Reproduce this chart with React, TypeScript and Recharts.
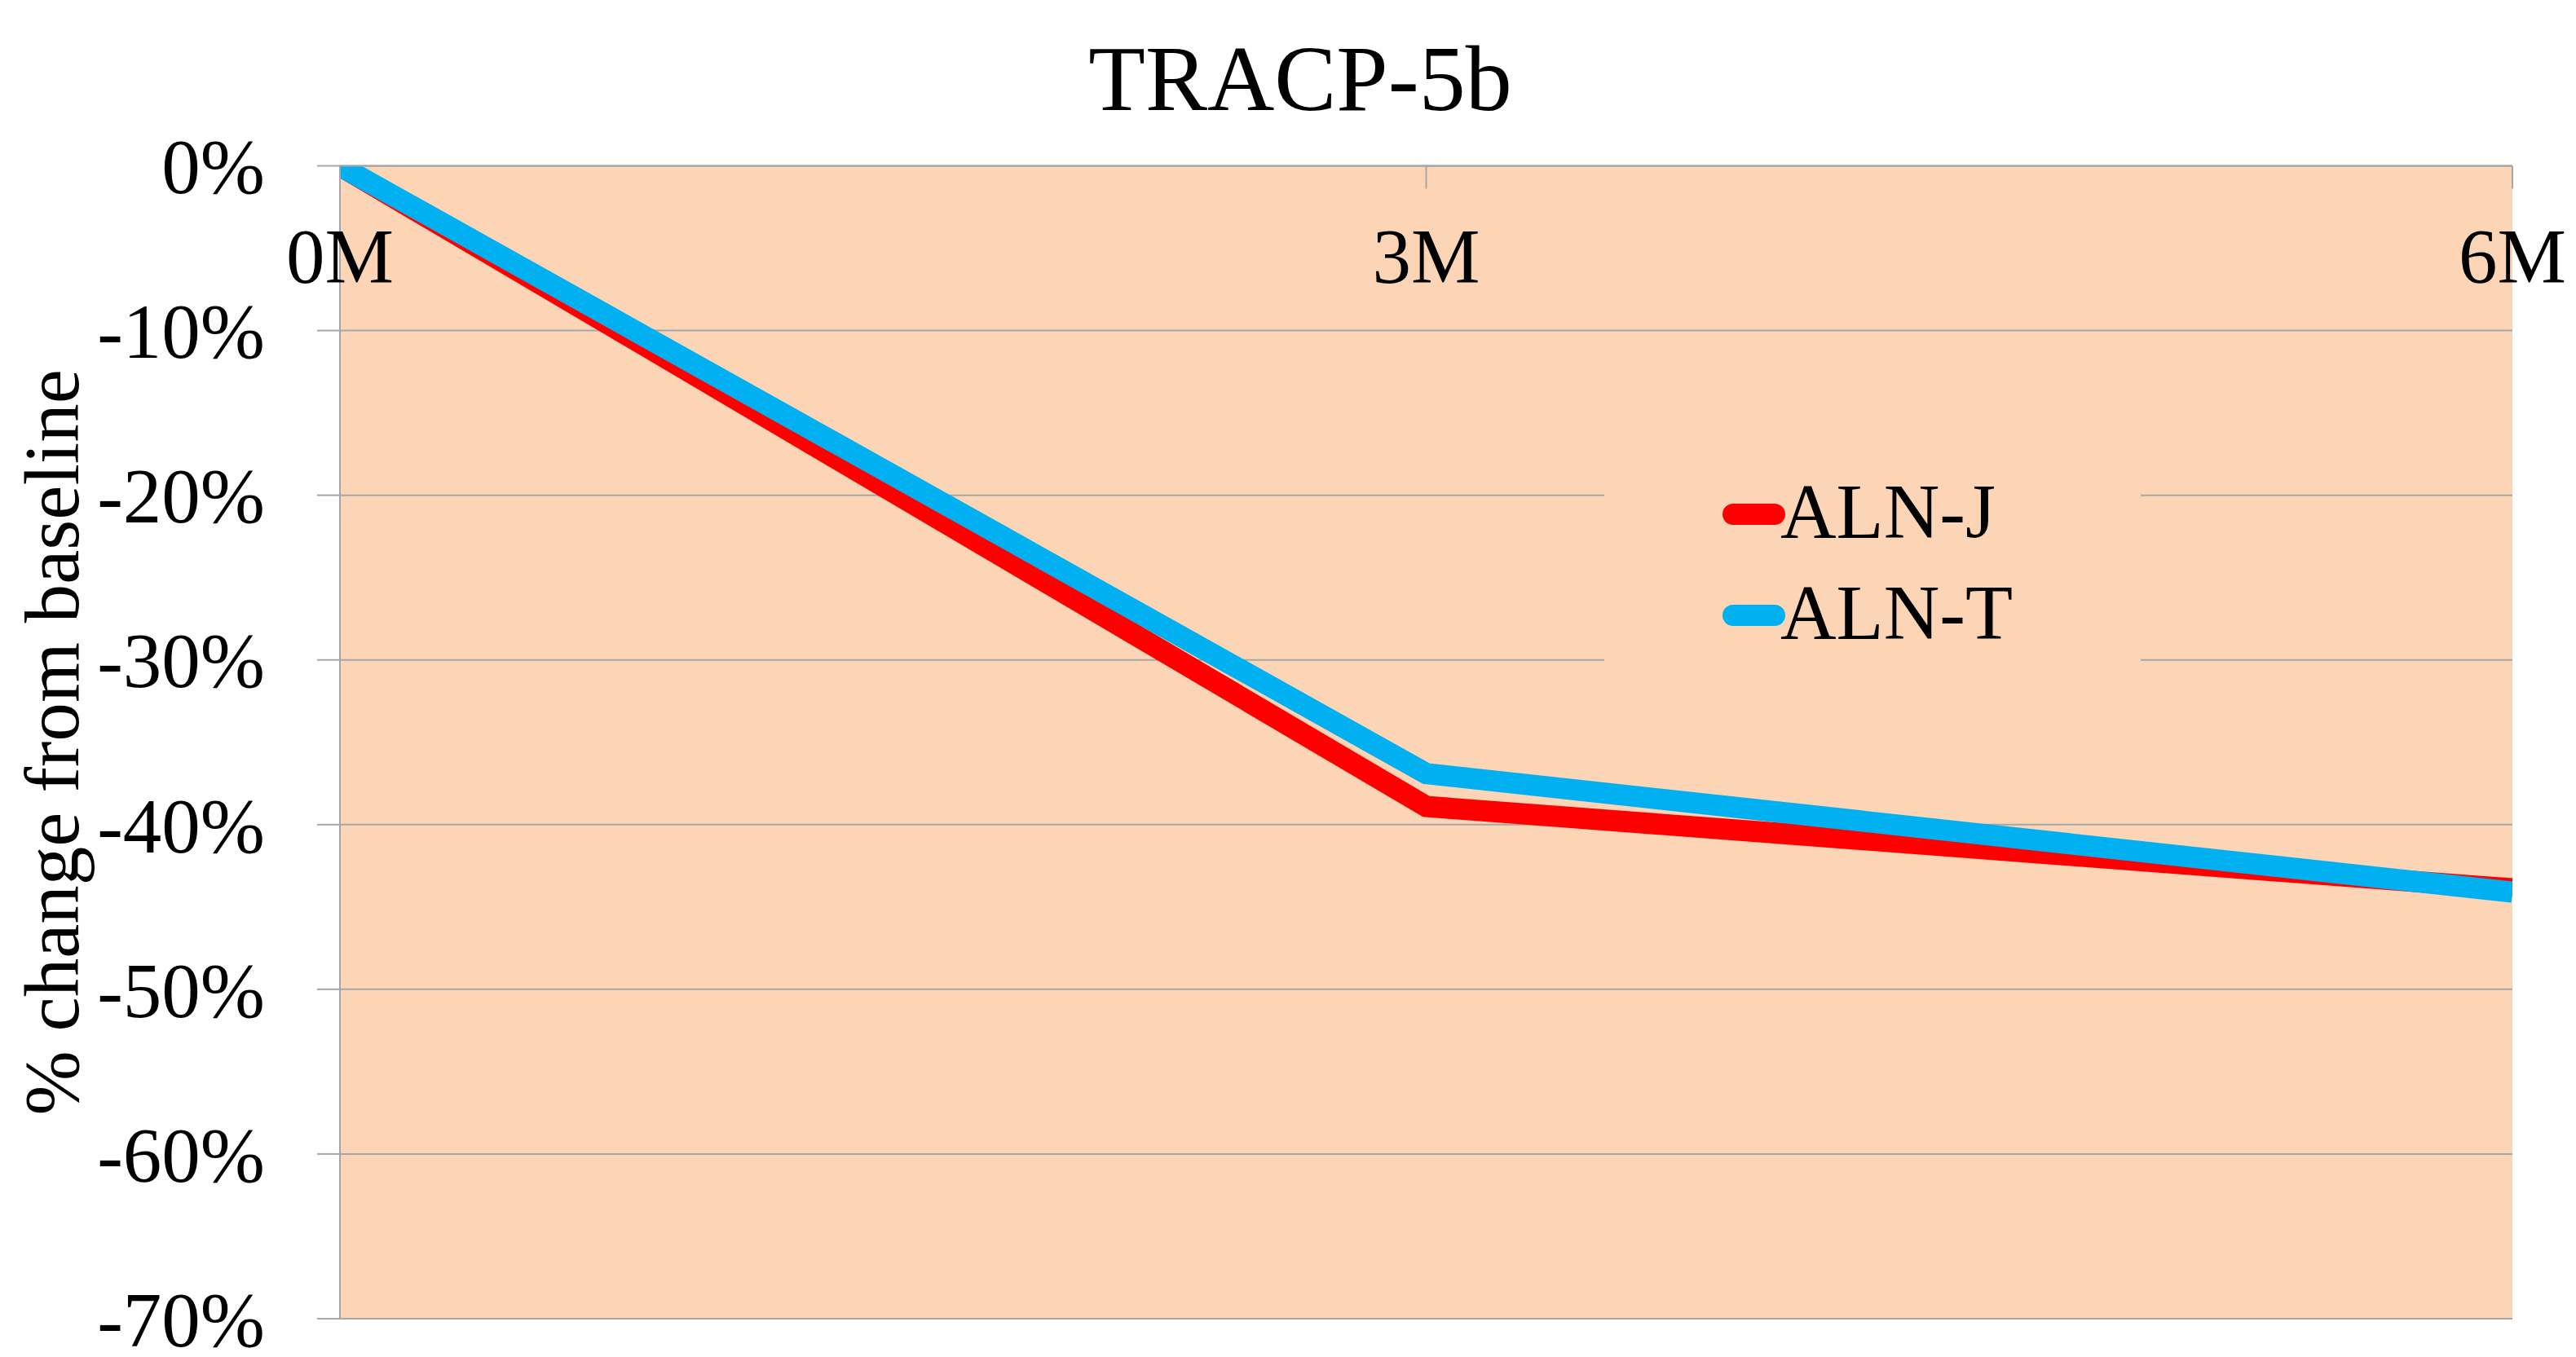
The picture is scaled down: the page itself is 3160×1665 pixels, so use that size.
import React from 'react';
import { LineChart, Line, XAxis, YAxis, CartesianGrid, Legend } from 'recharts';

const months = ['0M', '3M', '6M'];
const alnJ = [0, -38.9, -43.9];
const alnT = [0, -36.9, -44.1];
const yTicks = [0, -10, -20, -30, -40, -50, -60, -70];

const series = [
  { key: 'ALN-J', color: '#FF0000' },
  { key: 'ALN-T', color: '#00B0F0' },
];

const data = months.map((m, i) => ({ month: m, 'ALN-J': alnJ[i], 'ALN-T': alnT[i] }));

const FONT = '"Liberation Serif", "Times New Roman", serif';
const GRID = '#A6A6A6';
const PLOT_BG = '#FBD5B5';
const X_AXIS_H = 30;

function LegendBox() {
  return (
    <div style={{ paddingTop: 29, paddingLeft: 145 }}>
      {series.map((s) => (
        <div key={s.key} style={{ display: 'flex', alignItems: 'center', height: 124 }}>
          <svg width={77} height={30} style={{ display: 'block' }}>
            <line x1={13} y1={15} x2={64} y2={15} stroke={s.color} strokeWidth={26} strokeLinecap="round" />
          </svg>
          <span
            style={{
              fontFamily: FONT,
              fontSize: 95,
              lineHeight: 1,
              marginLeft: -6,
              color: '#000',
              position: 'relative',
              top: -3,
            }}
          >
            {s.key}
          </span>
        </div>
      ))}
    </div>
  );
}

// month labels sit inside the plot, under the 0% line
function MonthTick(props: any) {
  const { x, payload } = props;
  return (
    <g>
      <line x1={x} y1={203.5} x2={x} y2={231.5} stroke={GRID} strokeWidth={2} />
      <text x={x} y={347} textAnchor="middle" fontFamily={FONT} fontSize={95} fill="#000">
        {payload.value}
      </text>
    </g>
  );
}

function YLabel(props: any) {
  const vb = props.viewBox || { x: 0, y: 203.5, width: 417, height: 1414.5 };
  const cx = 64;
  const cy = vb.y + vb.height / 2;
  return (
    <text
      x={cx}
      y={cy}
      transform={`rotate(-90, ${cx}, ${cy})`}
      textAnchor="middle"
      dominantBaseline="central"
      fontFamily={FONT}
      fontSize={95}
      fill="#000"
    >
      % change from baseline
    </text>
  );
}

export default function App() {
  return (
    <div style={{ position: 'absolute', left: 0, top: 0, width: 3160, height: 1665, background: '#fff' }}>
      <div
        style={{
          position: 'absolute',
          left: 595,
          width: 2000,
          top: 40,
          textAlign: 'center',
          fontFamily: FONT,
          fontSize: 114,
          lineHeight: 1,
          color: '#000',
        }}
      >
        TRACP-5b
      </div>
      <LineChart
        width={3160}
        height={1665}
        data={data}
        margin={{ top: 203.5 - X_AXIS_H, right: 78, bottom: 47, left: 0 }}
      >
        <CartesianGrid vertical={false} stroke={GRID} strokeWidth={2} fill={PLOT_BG} fillOpacity={1} />
        <XAxis
          dataKey="month"
          orientation="top"
          height={X_AXIS_H}
          allowDataOverflow
          interval={0}
          axisLine={{ stroke: GRID, strokeWidth: 2 }}
          tickLine={false}
          tick={<MonthTick />}
        />
        <YAxis
          width={417}
          domain={[-70, 0]}
          ticks={yTicks}
          allowDataOverflow
          interval={0}
          tickFormatter={(v) => `${v}%`}
          axisLine={{ stroke: GRID, strokeWidth: 2 }}
          tickLine={{ stroke: GRID, strokeWidth: 2 }}
          tickSize={28}
          tickMargin={64}
          tick={{ fontFamily: FONT, fontSize: 95, fill: '#000' }}
          label={<YLabel />}
        />
        <Legend
          layout="vertical"
          align="center"
          verticalAlign="middle"
          content={<LegendBox />}
          wrapperStyle={{ left: 1968, top: 540, width: 658, height: 310, backgroundColor: PLOT_BG, margin: 0 }}
        />
        {series.map((s) => (
          <Line
            key={s.key}
            dataKey={s.key}
            type="linear"
            stroke={s.color}
            strokeWidth={26}
            dot={false}
            activeDot={false}
            isAnimationActive={false}
          />
        ))}
      </LineChart>
    </div>
  );
}
